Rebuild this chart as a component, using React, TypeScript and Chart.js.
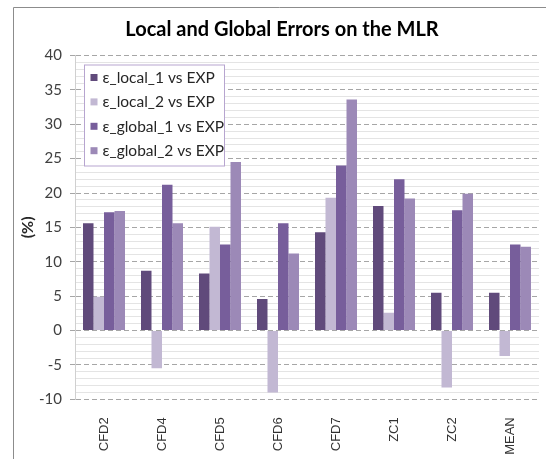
import React, { useEffect, useRef } from 'react';
import { Chart, registerables } from 'chart.js';

Chart.register(...registerables);

const title = 'Local and Global Errors on the MLR';
const yAxisTitle = '(%)';
const categories = ['CFD2', 'CFD4', 'CFD5', 'CFD6', 'CFD7', 'ZC1', 'ZC2', 'MEAN'];
const seriesLabels = ['ε_local_1 vs EXP', 'ε_local_2 vs EXP', 'ε_global_1 vs EXP', 'ε_global_2 vs EXP'];
const local1 = [15.6, 8.7, 8.3, 4.6, 14.3, 18.1, 5.5, 5.5];
const local2 = [4.9, -5.5, 15.1, -9.0, 19.3, 2.6, -8.3, -3.7];
const global1 = [17.2, 21.2, 12.5, 15.6, 24.0, 22.0, 17.5, 12.5];
const global2 = [17.4, 15.6, 24.5, 11.2, 33.6, 19.2, 19.9, 12.2];
const seriesColors = ['#604A7B', '#C2B8D3', '#775E9B', '#9C89B7'];
const yMin = -10;
const yMax = 40;
const yMajorStep = 5;

const W = 546;
const H = 459;

const decorPlugin = {
  id: 'decor',
  beforeDraw(chart: any) {
    const ctx = chart.ctx;
    ctx.save();
    ctx.strokeStyle = '#8C8C8C';
    ctx.lineWidth = 1;
    ctx.beginPath();
    ctx.moveTo(13.5, H);
    ctx.lineTo(13.5, 7.5);
    ctx.lineTo(W, 7.5);
    ctx.stroke();
    ctx.restore();
  },
  afterDraw(chart: any) {
    const ctx = chart.ctx;
    const area = chart.chartArea;
    ctx.save();
    // title
    ctx.fillStyle = '#000000';
    ctx.font = 'bold 20px Lato';
    ctx.textAlign = 'center';
    ctx.textBaseline = 'alphabetic';
    ctx.fillText(title, 282, 36);

    // legend box
    const bx = area.left + 9.5;
    const by = area.top + 9.5;
    const bw = 140;
    const bh = 101;
    ctx.fillStyle = '#FFFFFF';
    ctx.fillRect(bx, by, bw, bh);
    ctx.strokeStyle = '#B7A5D0';
    ctx.lineWidth = 1;
    ctx.strokeRect(bx, by, bw, bh);
    ctx.font = '15.5px Lato';
    ctx.textAlign = 'left';
    ctx.textBaseline = 'middle';
    chart.data.datasets.forEach((ds: any, i: number) => {
      const cy = by + 12.5 + i * 24.4;
      ctx.fillStyle = ds.backgroundColor;
      ctx.fillRect(bx + 6, cy - 3.5, 7, 7);
      ctx.fillStyle = '#262626';
      ctx.fillText(ds.label, bx + 18, cy + 0.5);
    });
    ctx.restore();
  },
};

const isMajor = (v: number) => Math.abs(v % yMajorStep) < 1e-9;

export default function App() {
  const ref = useRef<HTMLCanvasElement | null>(null);

  useEffect(() => {
    if (!ref.current) return;
    const chart = new Chart(ref.current, {
      type: 'bar',
      data: {
        labels: categories,
        datasets: [local1, local2, global1, global2].map((d, i) => ({
          label: seriesLabels[i],
          data: d,
          backgroundColor: seriesColors[i],
          borderWidth: 0,
          barPercentage: 1,
          categoryPercentage: 0.724,
        })),
      },
      options: {
        responsive: false,
        animation: false,
        devicePixelRatio: 1,
        layout: { padding: { top: 55.5, right: 7, left: 0, bottom: 0 } },
        plugins: {
          legend: { display: false },
          title: { display: false },
          tooltip: { enabled: false },
        },
        scales: {
          x: {
            grid: { display: false },
            border: { display: false },
            ticks: {
              autoSkip: false,
              minRotation: 90,
              maxRotation: 90,
              padding: 10,
              color: '#333333',
              font: { family: 'Liberation Sans', size: 13 },
            },
            afterFit: (s: any) => {
              s.height = 59.7;
            },
          },
          y: {
            min: yMin,
            max: yMax,
            afterFit: (s: any) => {
              s.width = 75;
            },
            title: {
              display: true,
              text: yAxisTitle,
              color: '#262626',
              font: { family: 'Lato', size: 16, weight: 'bold' },
              padding: { top: 18, bottom: 0 },
            },
            ticks: {
              stepSize: 1,
              maxTicksLimit: 100,
              autoSkip: false,
              padding: 8,
              color: '#404040',
              font: { family: 'Lato', size: 15 },
              callback: (v: any) => (isMajor(Number(v)) ? String(v) : ''),
            },
            grid: {
              color: (c: any) => (c.tick && isMajor(c.tick.value) ? '#A6A6A6' : '#E4E4E4'),
              tickColor: (c: any) => (c.tick && isMajor(c.tick.value) ? '#A6A6A6' : 'rgba(0,0,0,0)'),
              tickLength: 5,
              lineWidth: 1,
            },
            border: {
              display: true,
              color: '#D0D0D0',
              dash: (c: any) => (c.tick && isMajor(c.tick.value) ? [5, 3] : []),
            },
          },
        },
      },
      plugins: [decorPlugin],
    } as any);
    return () => chart.destroy();
  }, []);

  return (
    <div style={{ position: 'absolute', left: 0, top: 0, width: W, height: H, background: '#fff' }}>
      <canvas ref={ref} width={W} height={H} style={{ display: 'block' }} />
    </div>
  );
}
